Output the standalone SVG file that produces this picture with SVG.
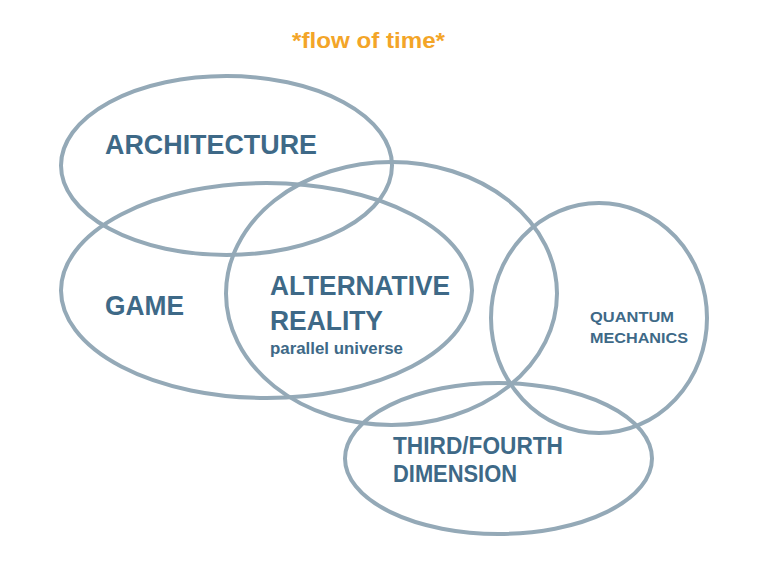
<svg xmlns="http://www.w3.org/2000/svg" width="768" height="579" viewBox="0 0 768 579">
<style>
.e{fill:none;stroke:#94a9b7;stroke-width:4}
.t{font-family:"Liberation Sans",Arial,sans-serif;font-weight:bold;fill:#3e6987}
.big{font-size:27px}
.mid{font-size:24.5px}
.sm{font-size:15.5px}
.sub{font-size:16px}
.o{font-family:"Liberation Sans",Arial,sans-serif;font-weight:bold;fill:#f3a528;font-size:22px}
</style>
<rect width="768" height="579" fill="#ffffff"/>
<text class="o" x="292" y="48" textLength="153" lengthAdjust="spacingAndGlyphs">*flow of time*</text>
<g id="architecture">
<ellipse class="e" cx="226.5" cy="165.5" rx="165.5" ry="89.5"/>
<text class="t big" x="105" y="154" textLength="212" lengthAdjust="spacingAndGlyphs">ARCHITECTURE</text>
</g>
<g id="game">
<ellipse class="e" cx="266.5" cy="290.5" rx="205.5" ry="107.5"/>
<text class="t big" x="105" y="315" textLength="79" lengthAdjust="spacingAndGlyphs">GAME</text>
</g>
<g id="alternative-reality">
<ellipse class="e" cx="391.5" cy="293.5" rx="165.5" ry="131.5"/>
<text class="t big" x="270" y="295" textLength="180" lengthAdjust="spacingAndGlyphs">ALTERNATIVE</text>
<text class="t big" x="270" y="330" textLength="113" lengthAdjust="spacingAndGlyphs">REALITY</text>
<text class="t sub" x="270" y="354" textLength="133" lengthAdjust="spacingAndGlyphs">parallel universe</text>
</g>
<g id="quantum-mechanics">
<ellipse class="e" cx="599" cy="318" rx="108" ry="115"/>
<text class="t sm" x="590" y="322" textLength="84" lengthAdjust="spacingAndGlyphs">QUANTUM</text>
<text class="t sm" x="590" y="343" textLength="98" lengthAdjust="spacingAndGlyphs">MECHANICS</text>
</g>
<g id="third-fourth-dimension">
<ellipse class="e" cx="498.5" cy="458.5" rx="153.5" ry="75.5"/>
<text class="t mid" x="393" y="454" textLength="170" lengthAdjust="spacingAndGlyphs">THIRD/FOURTH</text>
<text class="t mid" x="393" y="482" textLength="124" lengthAdjust="spacingAndGlyphs">DIMENSION</text>
</g>
<g id="connectors"/>
</svg>
